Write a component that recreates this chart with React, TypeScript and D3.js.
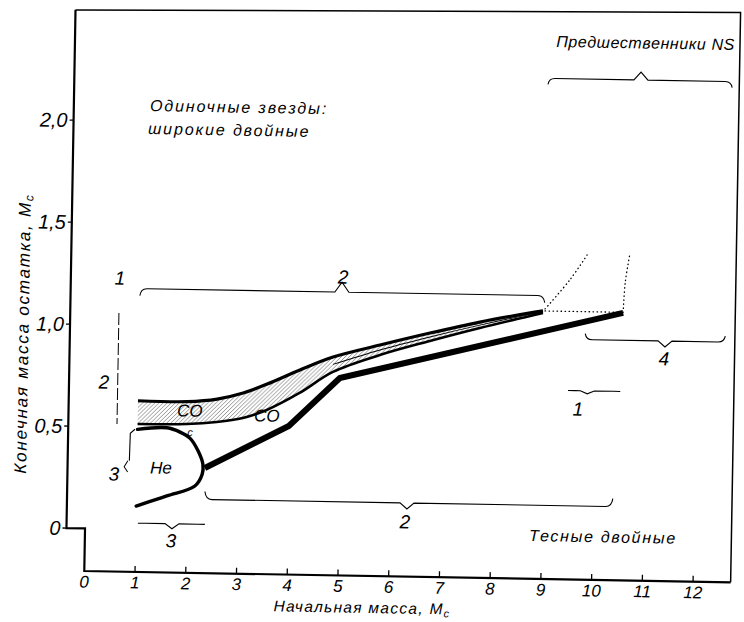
import React from "react";
import * as d3 from "d3";

// axis ticks
const massTicks = [1, 2, 3, 4, 5, 6, 7, 8, 9, 10, 11, 12];
const massTickLabels = ["0", "1", "2", "3", "4", "5", "6", "7", "8", "9", "10", "11", "12"];
const remnantTicks = [0, 0.5, 1.0, 1.5, 2.0];
const remnantTickLabels = ["0", "0,5", "1,0", "1,5", "2,0"];

// CO band (single stars / wide binaries)
const bandMass = [1.0, 1.97, 2.56, 3.07, 3.54, 4.18, 4.83, 5.75, 6.73, 7.71, 8.7, 8.95];
const bandUpper = [0.63, 0.63, 0.645, 0.677, 0.723, 0.795, 0.861, 0.924, 0.987, 1.045, 1.094, 1.105];
const bandLower = [0.516, 0.52, 0.533, 0.555, 0.596, 0.682, 0.788, 0.875, 0.948, 1.016, 1.079, 1.095];
const bandMidMass = [4.83, 5.75, 6.73, 7.71, 8.7, 8.95];
const bandMid = [0.825, 0.9, 0.968, 1.03, 1.087, 1.1];

// He white dwarfs
const heMass = [1.0, 1.58, 1.84, 2.04, 2.2, 2.3, 2.29, 2.15, 1.6, 1.0];
const heRemnant = [0.49, 0.5, 0.48, 0.45, 0.39, 0.325, 0.275, 0.217, 0.166, 0.114];

// close binaries, CO / ONe remnants
const closeMass = [2.34, 3.98, 4.97, 10.53];
const closeRemnant = [0.306, 0.519, 0.759, 1.102];

// dotted continuations
const dotAMass = [8.99, 9.47, 9.8];
const dotARemnant = [1.115, 1.26, 1.383];
const dotBMass = [10.53, 10.56, 10.645];
const dotBRemnant = [1.105, 1.25, 1.396];
const dotCMass = [8.99, 10.53];
const dotCRemnant = [1.105, 1.105];

// horizontal braces: [m0, m1, mNotch, value]
const braces = [
  [1.0, 8.98, 4.98, 1.18],
  [8.97, 12.6, 10.8, 2.245],
  [9.79, 12.55, 11.365, 0.968],
  [2.35, 10.39, 6.336, 0.152],
  [1.04, 2.36, 1.712, 0.03],
  [9.47, 10.5, 9.85, 0.717],
];
// end hook / notch sizes in px (sign: + ends down, + notch up)
const braceEnds = [7, 6, -6, -8, 0, 0];
const braceNotch = [10, 8, -6, -6, -5, -3];

// numbered labels: [m, value, text]
const numLabels: [number, number, string][] = [
  [0.6, 1.23, "1"],
  [5.0, 1.254, "2"],
  [0.322, 0.719, "2"],
  [0.551, 0.269, "3"],
  [1.698, -0.054, "3"],
  [6.3, 0.059, "2"],
  [9.67, 0.627, "1"],
  [11.35, 0.88, "4"],
];

// vertical brace "2" and left brace "3"
const vBraceMass = [0.594, 0.594];
const vBraceRemnant = [1.059, 0.514];
const lBraceMass = [0.95, 0.86, 0.85];
const lBraceRemnant = [0.49, 0.47, 0.335];
const lHookMass = [0.82, 0.75, 0.82];
const lHookRemnant = [0.335, 0.305, 0.28];

const W = 744;
const H = 622;
const font = "'Liberation Sans', Arial, sans-serif";

const x = d3.scaleLinear().domain([0, 12]).range([89.06, 697.94]);
const y = d3.scaleLinear().domain([0, 2]).range([533.85, 125.85]);

const frame = { left: 70.5, right: 735.5, bottom: 576.5, topL: 15.6, topR: 6.5 };

const pts = (ms: number[], vs: number[]) => ms.map((m, i) => [m, vs[i]] as [number, number]);

const smooth = d3
  .line<[number, number]>()
  .x((d) => x(d[0]))
  .y((d) => y(d[1]))
  .curve(d3.curveCatmullRom.alpha(0.5));
const straight = d3
  .line<[number, number]>()
  .x((d) => x(d[0]))
  .y((d) => y(d[1]));

const bandArea = d3
  .area<number>()
  .x((_, i) => x(bandMass[i]))
  .y0((_, i) => y(bandLower[i]))
  .y1((_, i) => y(bandUpper[i]))
  .curve(d3.curveCatmullRom.alpha(0.5));

function bracePath(b: number[], end: number, notch: number) {
  const [m0, m1, mn, v] = b;
  const yy = y(v);
  const x0 = x(m0);
  const x1 = x(m1);
  const xn = x(mn);
  return `M${x0},${yy + end} Q${x0 + 1},${yy} ${x0 + 7},${yy} L${xn - 7},${yy} L${xn},${yy - notch} L${xn + 7},${yy} L${x1 - 7},${yy} Q${x1 - 1},${yy} ${x1},${yy + end}`;
}

const App: React.FC = () => {
  const textStyle = { fontFamily: font, fontStyle: "italic" as const };
  return (
    <svg
      width={W}
      height={H}
      style={{ position: "absolute", left: 0, top: 0, background: "#fff" }}
    >
      <defs>
        <pattern id="hatch" patternUnits="userSpaceOnUse" width={4} height={4}>
          <path d="M-1,1 L1,-1 M0,4 L4,0 M3,5 L5,3" stroke="#666" strokeWidth={0.7} />
        </pattern>
      </defs>
      <rect width={W} height={H} fill="#fff" />
      <g transform="rotate(1, 400, 300)">
        {/* frame */}
        <path
          d={`M${frame.left},${frame.topL} L${frame.left},${y(0)} L${x(0)},${y(0)} L${x(0)},${frame.bottom} L${frame.right},${frame.bottom}`}
          fill="none"
          stroke="#000"
          strokeWidth={2.2}
        />
        <path
          d={`M${frame.left},${frame.topL} L${frame.right},${frame.topR} L${frame.right},${frame.bottom}`}
          fill="none"
          stroke="#000"
          strokeWidth={1.5}
        />
        {/* x ticks */}
        {massTicks.map((m) => (
          <line key={m} x1={x(m)} x2={x(m)} y1={frame.bottom} y2={frame.bottom - 6} stroke="#000" strokeWidth={1.3} />
        ))}
        {massTickLabels.map((t, i) => (
          <text key={t} x={x(i)} y={frame.bottom + 16.5} textAnchor="middle" fontSize={17} {...textStyle}>
            {t}
          </text>
        ))}
        {/* y ticks */}
        {remnantTicks.map((v, i) => (
          <g key={v}>
            <line x1={frame.left - 4} x2={frame.left} y1={y(v)} y2={y(v)} stroke="#000" strokeWidth={1.3} />
            <text x={64.5} y={y(v) + 7} textAnchor="end" fontSize={20} {...textStyle}>
              {remnantTickLabels[i]}
            </text>
          </g>
        ))}
        {/* axis titles */}
        <text
          transform={`translate(24.6,340) rotate(-90)`}
          textAnchor="middle"
          dominantBaseline="middle"
          fontSize={17}
          letterSpacing={1.8}
          {...textStyle}
        >
          Конечная масса остатка, M
          <tspan fontSize={12} dy={4}>c</tspan>
        </text>
        <text x={367.4} y={613.5} textAnchor="middle" fontSize={15.5} letterSpacing={1.3} {...textStyle}>
          Начальная масса, M<tspan fontSize={11} dy={3}>c</tspan>
        </text>

        {/* CO band */}
        <path d={bandArea(bandMass) ?? ""} fill="url(#hatch)" />
        <path d={smooth(pts(bandMass, bandUpper)) ?? ""} fill="none" stroke="#000" strokeWidth={3.2} />
        <path d={smooth(pts(bandMass, bandLower)) ?? ""} fill="none" stroke="#000" strokeWidth={2.6} />
        <path d={smooth(pts(bandMidMass, bandMid)) ?? ""} fill="none" stroke="#000" strokeWidth={1} />

        {/* He */}
        <path d={smooth(pts(heMass, heRemnant)) ?? ""} fill="none" stroke="#000" strokeWidth={3.4} strokeLinecap="round" />
        {/* close binaries */}
        <path d={straight(pts(closeMass, closeRemnant)) ?? ""} fill="none" stroke="#000" strokeWidth={6} strokeLinejoin="round" />

        {/* dotted */}
        {[pts(dotAMass, dotARemnant), pts(dotBMass, dotBRemnant), pts(dotCMass, dotCRemnant)].map((p, i) => (
          <path key={i} d={smooth(p) ?? ""} fill="none" stroke="#000" strokeWidth={1.3} strokeDasharray="0.5 3.5" strokeLinecap="round" />
        ))}

        {/* braces */}
        {braces.map((b, i) => (
          <path key={i} d={bracePath(b, braceEnds[i], braceNotch[i])} fill="none" stroke="#000" strokeWidth={1.1} />
        ))}
        <path d={straight(pts(vBraceMass, vBraceRemnant)) ?? ""} fill="none" stroke="#000" strokeWidth={1} strokeDasharray="12 3" />
        <path d={straight(pts(lBraceMass, lBraceRemnant)) ?? ""} fill="none" stroke="#000" strokeWidth={1.1} />
        <path d={straight(pts(lHookMass, lHookRemnant)) ?? ""} fill="none" stroke="#000" strokeWidth={1} />

        {numLabels.map(([m, v, t], i) => (
          <text key={i} x={x(m)} y={y(v)} textAnchor="middle" dominantBaseline="central" fontSize={19} {...textStyle}>
            {t}
          </text>
        ))}

        {/* region texts */}
        <text x={x(2.027)} y={y(0.584)} textAnchor="middle" dominantBaseline="central" fontSize={17} {...textStyle}>
          CO
        </text>
        <text x={x(3.546)} y={y(0.566)} textAnchor="middle" dominantBaseline="central" fontSize={17} {...textStyle}>
          CO
        </text>
        <text x={x(1.476)} y={y(0.302)} textAnchor="middle" dominantBaseline="central" fontSize={17} {...textStyle}>
          He
        </text>
        <text x={x(2.035)} y={y(0.481)} textAnchor="middle" dominantBaseline="central" fontSize={11} {...textStyle}>
          c
        </text>
        <text x={x(1.136)} y={y(2.051)} fontSize={16} letterSpacing={1.9} {...textStyle}>
          Одиночные звезды:
        </text>
        <text x={x(1.104)} y={y(1.938)} fontSize={16} letterSpacing={1.9} {...textStyle}>
          широкие двойные
        </text>
        <text x={x(8.753)} y={y(-0.024)} fontSize={16} letterSpacing={1.7} {...textStyle}>
          Тесные двойные
        </text>
        <text x={x(12.64)} y={y(2.4)} textAnchor="end" fontSize={16} letterSpacing={0.6} {...textStyle}>
          Предшественники NS
        </text>
      </g>
    </svg>
  );
};

export default App;
